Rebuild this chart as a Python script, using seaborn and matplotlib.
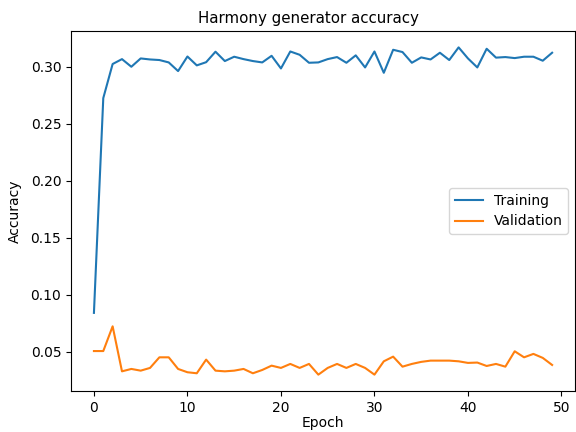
import matplotlib
matplotlib.use("Agg")
import matplotlib.pyplot as plt
import seaborn as sns
import pandas as pd
import numpy as np

epochs = list(range(50))
training = [0.084, 0.2725, 0.3024, 0.3067, 0.300, 0.3073, 0.3064, 0.3059, 0.3038, 0.2962,
            0.309, 0.3012, 0.304, 0.3132, 0.305, 0.3088, 0.3067, 0.305, 0.3038, 0.3096,
            0.2985, 0.3134, 0.3105, 0.3035, 0.3038, 0.3067, 0.3085, 0.3035, 0.310, 0.2994,
            0.3134, 0.2947, 0.3149, 0.3129, 0.3035, 0.3082, 0.3064, 0.3123, 0.3059, 0.317,
            0.3073, 0.2994, 0.3158, 0.308, 0.3085, 0.3076, 0.3088, 0.3088, 0.3053, 0.3123]
validation = [0.0505, 0.0505, 0.0722, 0.0327, 0.0348, 0.0333, 0.0357, 0.045, 0.045, 0.0348,
              0.0319, 0.031, 0.043, 0.0333, 0.0327, 0.0333, 0.0348, 0.031, 0.0339, 0.0377,
              0.0357, 0.0392, 0.0357, 0.0392, 0.0298, 0.0357, 0.0392, 0.0357, 0.0392, 0.0357,
              0.0298, 0.0415, 0.0456, 0.0368, 0.0392, 0.041, 0.0421, 0.0421, 0.0421, 0.0415,
              0.0401, 0.0404, 0.0374, 0.0392, 0.0368, 0.0503, 0.045, 0.048, 0.0445, 0.0383]
series_names = ["Training", "Validation"]

df = pd.DataFrame({
    "Epoch": epochs * 2,
    "Accuracy": training + validation,
    "Series": [series_names[0]] * len(epochs) + [series_names[1]] * len(epochs),
})

fig = plt.figure(figsize=(5.76, 4.32), dpi=100)
ax = fig.add_axes([0.1233, 0.0949, 0.875, 0.8333])
sns.lineplot(data=df, x="Epoch", y="Accuracy", hue="Series",
             palette=["#1f77b4", "#ff7f0e"], linewidth=1.5, ax=ax)
ax.set_title("Harmony generator accuracy", fontsize=10.8)
ax.title.set_x(0.472)
ax.set_xlabel("Epoch", fontsize=10, labelpad=1)
ax.set_ylabel("Accuracy", fontsize=10, labelpad=6)
ax.set_xticks([0, 10, 20, 30, 40, 50])
ax.set_yticks([0.05, 0.10, 0.15, 0.20, 0.25, 0.30])
ax.tick_params(labelsize=10)
leg = ax.legend(loc="center right", fontsize=10)
leg.set_title(None)
fig.savefig("out.png", dpi=100)
